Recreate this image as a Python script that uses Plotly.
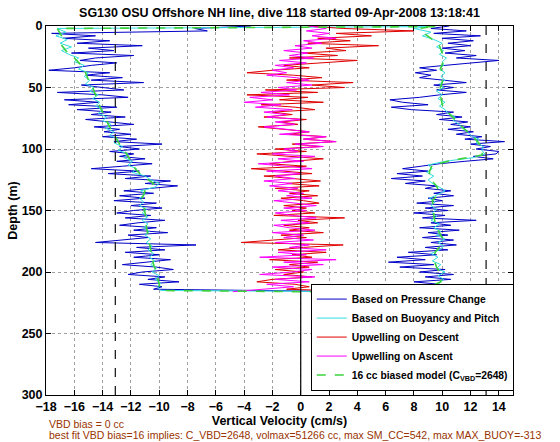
import plotly.graph_objects as go

FONT = "Liberation Sans, Arial, Helvetica, sans-serif"

TITLE = "SG130 OSU Offshore NH line, dive 118 started 09-Apr-2008 13:18:41"
X_TITLE = "Vertical Velocity (cm/s)"
Y_TITLE = "Depth (m)"
NOTE_1 = "VBD bias = 0 cc"
NOTE_2 = ("best fit VBD bias=16 implies: C_VBD=2648, volmax=51266 cc, "
          "max SM_CC=542, max MAX_BUOY=-313")

X_RANGE = [-18, 15]
Y_RANGE = [300, 0]
X_TICKS = list(range(-18, 15, 2))
Y_TICKS = list(range(0, 301, 50))
LIMIT_LINES = [-13.1, 13.1]
ZERO_LINE = [0]

NAMES = ["Based on Pressure Change", "Based on Buoyancy and Pitch",
         "Upwelling on Descent", "Upwelling on Ascent",
         "16 cc biased model (C<sub>VBD</sub>=2648)"]
COLORS = ["#0000C8", "#30DCDC", "#E00000", "#FF00FF", "#3CD23C"]

# ---- Based on Pressure Change (blue) ----
# descent, depths 0,2,...,214
pressure_desc = [
    -3.5, -7.5, -6.6, -17.6, -14.5, -16.8, -13.5, -15.8, -11.2, -15.0,
    -13.2, -16.2, -11.8, -14.5, -15.6, -13.0, -14.8, -16.0, -17.8, -13.5,
    -15.2, -12.6, -14.8, -11.1, -15.5, -13.8, -12.5, -17.2, -14.0, -12.2,
    -16.7, -14.3, -16.4, -13.0, -15.8, -13.4, -14.8, -12.4, -15.2, -13.5,
    -11.8, -14.6, -12.8, -13.9, -12.0, -14.0, -11.6, -13.2, -9.8, -12.8,
    -11.4, -13.5, -11.8, -12.8, -11.0, -13.0, -10.5, -12.6, -14.8, -11.4,
    -13.6, -10.6, -12.4, -9.2, -11.0, -8.7, -10.8, -12.5, -10.4, -12.8,
    -11.0, -13.2, -10.2, -12.0, -9.8, -11.8, -13.0, -10.6, -12.4, -9.6,
    -11.5, -12.8, -10.2, -11.8, -9.4, -12.2, -10.8, -12.6, -14.5, -7.4,
    -11.6, -9.6, -12.4, -10.0, -11.8, -9.2, -11.0, -12.6, -10.2, -9.0,
    -11.2, -12.2, -9.6, -10.8, -8.6, -11.4, -9.8, -10.4]
pressure_desc_depth = [2 * i for i in range(len(pressure_desc))]
# ascent, depths 216,214,...,0
pressure_asc = [
    4.0, 8.6, 7.2, 9.8, 8.0, 10.6, 8.8, 10.8, 8.4, 10.2,
    7.0, 9.4, 6.2, 8.8, 6.8, 9.6, 7.6, 10.4, 8.8, 11.0,
    9.2, 10.8, 8.6, 10.4, 9.0, 11.2, 8.4, 10.6, 9.2, 12.4,
    8.6, 10.2, 8.0, 10.4, 8.8, 10.8, 8.2, 10.0, 9.0, 10.8,
    9.4, 10.6, 8.8, 9.6, 7.4, 8.8, 6.4, 8.6, 6.8, 9.0,
    7.2, 8.4, 9.8, 11.6, 13.6, 12.2, 13.8, 14.0, 12.4, 13.4,
    12.0, 14.4, 11.6, 12.8, 11.0, 12.2, 10.4, 12.0, 10.6, 11.8,
    9.8, 11.4, 9.6, 10.8, 7.8, 6.4, 9.0, 7.2, 6.3, 8.4,
    9.8, 11.7, 9.6, 10.8, 9.4, 11.7, 10.2, 8.4, 9.2, 8.1,
    9.6, 8.4, 10.2, 12.0, 14.0, 11.0, 12.4, 10.2, 11.6, 10.0,
    12.0, 10.4, 12.2, 10.0, 12.7, 9.4, 11.7, 9.2, 10.5]
pressure_asc_depth = [216 - 2 * i for i in range(len(pressure_asc))]

# ---- Based on Buoyancy and Pitch (cyan) ----
buoy_desc_depth = [0.5] + list(range(2, 216, 3))
buoy_desc = [
    9.0,
    -17.2, -16.6, -17.3, -16.5, -17.0, -16.2, -16.9, -16.4, -15.7, -16.0,
    -15.3, -15.7, -15.0, -15.3, -14.9, -15.2, -14.6, -14.9, -14.3, -14.7,
    -14.2, -14.5, -14.0, -14.3, -13.7, -14.0, -13.4, -13.8, -13.2, -13.5,
    -12.9, -13.2, -12.6, -12.9, -12.2, -12.5, -11.9, -12.2, -11.6, -11.9,
    -11.0, -10.6, -10.0, -10.3, -11.3, -11.0, -11.4, -11.1, -11.4, -10.9,
    -11.2, -10.8, -11.2, -10.8, -11.1, -10.7, -11.0, -10.6, -10.9, -10.5,
    -10.8, -10.4, -10.7, -10.3, -10.6, -10.2, -10.5, -10.0, -10.3, -9.9,
    -10.1, -9.9]
buoy_asc_depth = [216, 214, 212] + list(range(209, 1, -3)) + [0.5]
buoy_asc = [
    4.5, 7.0, 9.0,
    9.8, 10.1, 9.7, 10.2, 9.6, 9.9, 9.3, 9.7, 9.2, 9.8,
    10.1, 9.7, 10.2, 9.6, 9.9, 9.4, 9.8, 9.2, 9.6, 9.3,
    9.6, 9.2, 9.5, 9.1, 9.7, 10.2, 9.8, 9.3, 9.0, 9.4,
    8.9, 9.3, 9.0, 10.2, 12.2, 13.0, 12.8, 12.9, 12.4, 12.6,
    12.0, 11.8, 11.4, 11.2, 10.8, 10.9, 10.4, 10.2, 9.8, 10.2,
    9.7, 10.0, 9.6, 10.1, 9.8, 10.2, 9.9, 10.2, 9.8, 10.1,
    10.0, 10.3, 9.8, 10.1, 9.6, 10.0, 9.4, 8.6, 9.2, 8.0,
    9.0]

# ---- Upwelling on Descent (red), depths 0,2,...,216 ----
upwell_desc = [
    0.5, 3.0, 8.0, 2.5, 5.0, 1.2, 3.5, 0.5, 5.5, 1.8,
    3.2, 0.2, 2.6, -0.8, 4.0, 1.0, -1.2, 0.6, -2.0, -3.8,
    -0.5, 1.5, -1.0, 3.7, 0.8, 3.1, -2.5, 1.2, -3.8, 0.5,
    -1.5, 1.6, -2.8, -0.4, 1.0, -2.0, -0.6, -2.6, 0.4, -1.4,
    -0.2, -3.0, -1.0, 0.6, -0.8, 1.8, 0.2, 2.5, -0.6, 1.4,
    -1.8, 0.4, -3.1, -0.8, 1.6, -0.6, -2.2, 0.4, -3.5, -1.2,
    0.8, -2.6, -0.4, 1.4, -1.0, 1.3, -1.8, 0.6, -0.8, 1.2,
    -1.4, 0.2, 1.3, -1.2, 0.4, -0.6, 1.0, -1.9, 3.1, -0.2,
    1.2, -1.2, 0.6, -0.8, 1.6, -1.4, 0.4, -1.8, -4.2, 3.0,
    0.2, -1.6, 1.8, -0.6, 0.8, -2.2, 1.2, -0.8, 0.6, -1.8,
    0.2, -1.2, 0.8, -2.0, -3.1, -0.4, 0.6, -1.0, 4.8]
upwell_desc_depth = [2 * i for i in range(len(upwell_desc))]

# ---- Upwelling on Ascent (magenta), depths 216,214,...,0 ----
upwell_asc = [
    -4.8, -2.8, -0.5, -2.4, 0.6, -1.8, 1.0, -2.9, -0.6, 0.8,
    -2.0, 1.6, -1.2, 2.5, -2.9, 0.4, -1.6, 1.8, -0.8, 0.6,
    -1.8, 0.9, -1.2, 0.2, -2.0, 1.0, -0.8, -1.9, 0.6, -1.4,
    1.1, -0.6, -1.8, 0.4, -1.2, 1.1, -0.4, -1.9, 0.8, -1.0,
    0.2, -1.6, -0.2, -2.2, -0.6, -2.6, -0.4, -1.8, 0.0, -2.4,
    0.8, -1.2, -3.0, 0.2, -1.6, 1.0, -2.0, -0.2, -1.2, 1.6,
    -0.4, 2.5, 0.2, 1.8, -1.5, 0.6, -1.2, -2.6, -0.4, -1.8,
    0.0, -2.4, -1.0, -2.6, -0.6, -3.2, -1.4, -4.0, -2.0, -3.6,
    -0.8, -2.8, -0.3, -1.6, 0.8, -1.0, 0.6, -0.3, -2.4, -1.0,
    -2.0, -0.5, -1.8, 0.4, -1.5, 0.9, -0.8, 0.5, -1.2, 0.8,
    -0.4, 1.5, 0.2, 2.5, 0.8, 2.0, 0.4, 1.8, 0.6]
upwell_asc_depth = [216 - 2 * i for i in range(len(upwell_asc))]

# ---- 16 cc biased model (green dashed) ----
model_desc_depth = [0.5, 2, 8, 14, 20, 26, 32, 38, 44, 50, 56, 62, 68, 74,
                    80, 86, 92, 98, 104, 110, 116, 122, 128, 134, 140, 146,
                    152, 158, 164, 170, 176, 182, 188, 194, 200, 206, 212, 215]
model_desc = [9.5, -17.2, -16.9, -17.0, -16.6, -16.0, -15.5, -15.2, -15.0,
              -14.7, -14.5, -14.3, -14.1, -13.8, -13.6, -13.3, -13.0, -12.7,
              -12.3, -12.0, -11.7, -11.2, -10.4, -11.0, -11.2, -11.1, -11.0,
              -10.9, -10.9, -10.8, -10.7, -10.6, -10.5, -10.4, -10.2, -10.1,
              -10.0, -9.9]
model_asc_depth = [216.5, 213.5, 208, 202, 196, 190, 184, 178, 172, 166, 160,
                   154, 148, 142, 136, 130, 124, 118, 113, 109, 105, 100, 94,
                   88, 82, 76, 70, 64, 58, 52, 46, 40, 34, 28, 22, 16, 10, 5,
                   2, 1]
model_asc = [4.5, 8.8, 9.9, 9.9, 9.6, 9.4, 9.5, 9.9, 10.0, 9.7, 9.5, 9.4,
             9.4, 9.3, 9.8, 9.6, 9.1, 9.1, 9.3, 10.8, 12.8, 12.9, 12.5, 12.0,
             11.4, 10.9, 10.4, 10.0, 9.9, 9.8, 10.0, 10.0, 9.9, 10.1, 10.0,
             9.8, 9.2, 8.6, 8.4, 9.0]

fig = go.Figure()

series = [
    (pressure_desc + pressure_asc, pressure_desc_depth + pressure_asc_depth, "solid", 1),
    (buoy_desc + buoy_asc, buoy_desc_depth + buoy_asc_depth, "solid", 1),
    (upwell_desc, upwell_desc_depth, "solid", 1),
    (upwell_asc, upwell_asc_depth, "solid", 1),
    (model_desc + model_asc, model_desc_depth + model_asc_depth, "dash", 1.6),
]
for (xs, ys, dash, w), name, color in zip(series, NAMES, COLORS):
    fig.add_trace(go.Scatter(
        x=xs, y=ys, mode="lines", name=name,
        line=dict(color=color, width=w, dash=dash)))

for v in LIMIT_LINES:
    fig.add_vline(x=v, line=dict(color="#222222", width=1.3, dash="dash"))
for v in ZERO_LINE:
    fig.add_vline(x=v, line=dict(color="black", width=1.2))

tickfont = dict(family=FONT, size=12.5, color="black", weight="bold")
axis_common = dict(
    showline=True, linecolor="black", linewidth=1, mirror="allticks",
    ticks="inside", ticklen=5, tickcolor="black", tickwidth=1,
    showgrid=True, gridcolor="#a0a0a0", griddash="dot", gridwidth=1,
    zeroline=False, tickfont=tickfont, automargin=False,
)
fig.update_xaxes(range=X_RANGE, tickvals=X_TICKS,
                 title=dict(text=X_TITLE, standoff=2,
                            font=dict(family=FONT, size=12.5, color="black", weight="bold")),
                 **axis_common)
fig.update_yaxes(range=Y_RANGE, tickvals=Y_TICKS,
                 title=dict(text=Y_TITLE, standoff=1,
                            font=dict(family=FONT, size=12.5, color="black", weight="bold")),
                 **axis_common)

fig.update_layout(
    width=560, height=442,
    margin=dict(l=46, r=47, t=26, b=47),
    paper_bgcolor="white", plot_bgcolor="white",
    font=dict(family=FONT, color="black"),
    title=dict(text=TITLE, x=0.5, xref="paper", xanchor="center",
               y=1 - 13 / 442, yref="container", yanchor="middle",
               font=dict(family=FONT, size=12.5, color="black", weight="bold")),
    legend=dict(x=0.567, y=0.012, xanchor="left", yanchor="bottom",
                bgcolor="white", bordercolor="black", borderwidth=1,
                font=dict(family=FONT, size=10.3, color="black", weight="bold"),
                tracegroupgap=0),
    showlegend=True,
)

fig.add_annotation(text=NOTE_1, xref="paper", yref="paper", x=0.003, y=-0.078,
                   xanchor="left", yanchor="middle", showarrow=False,
                   font=dict(family=FONT, size=10.5, color="#993300"))
fig.add_annotation(text=NOTE_2, xref="paper", yref="paper", x=0.003, y=-0.109,
                   xanchor="left", yanchor="middle", showarrow=False,
                   font=dict(family=FONT, size=10.5, color="#993300"))

fig.write_html("out.html",
               config={"displayModeBar": False},
               post_script="document.body.style.margin='0px';"
                           "document.body.style.padding='0px';")
